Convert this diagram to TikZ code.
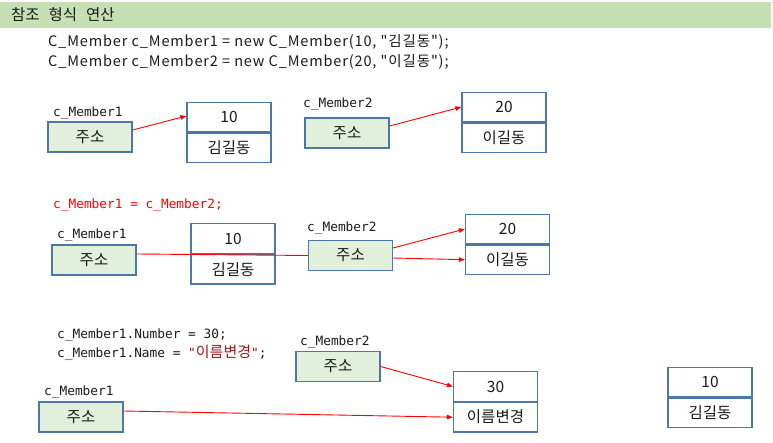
\documentclass[tikz,border=0pt]{standalone}
\usepackage{fontspec}
\setmainfont{Noto Sans CJK KR}
\newfontfamily\monofont{DejaVu Sans Mono}
\newfontfamily\krfont{Noto Sans CJK KR}
\newfontfamily\codefont[LetterSpace=6]{Noto Sans CJK KR}
\usetikzlibrary{arrows.meta}
\definecolor{band}{HTML}{C5E0B4}
\definecolor{addrfill}{HTML}{E2EFDA}
\definecolor{edge}{HTML}{4A78AA}
\definecolor{strred}{HTML}{A31515}
\definecolor{txt}{HTML}{1A1A1A}
\tikzset{
  txtnode/.style={inner sep=0pt, anchor=west, text=txt},
  codetext/.style={txtnode, font=\codefont\fontsize{14.5}{16}\selectfont},
  labeltext/.style={txtnode, font=\monofont\fontsize{12.8}{15}\selectfont},
  addrbox/.style={draw=edge, line width=1.2pt, fill=addrfill, minimum width=84pt, minimum height=30pt, inner sep=0pt, text=txt, font=\fontsize{15.5}{18}\selectfont},
  objpart/.style={draw=edge, line width=1.2pt, fill=white, minimum width=84pt, minimum height=29.5pt, inner sep=0pt, text=txt, font=\fontsize{15.5}{18}\selectfont},
  ref/.style={draw=red, line width=0.9pt},
  refarrow/.style={ref, -{Triangle[length=6pt,width=4.5pt]}}
}
\begin{document}
\begin{tikzpicture}[x=1pt,y=-1pt]
\useasboundingbox (0,0) rectangle (773,443);
% header band
\fill[band] (0,2) rectangle (771,28);
\node[txtnode, font=\fontsize{15.5}{17}\selectfont] (title) at (11,15) {참조\hspace{5.5pt} 형식\hspace{5.5pt} 연산};
\node[codetext] (code1) at (48,42) {C\_Member c\_Member1 = new C\_Member(10, \symbol{34}김길동\symbol{34});};
\node[codetext] (code2) at (48,62) {C\_Member c\_Member2 = new C\_Member(20, \symbol{34}이길동\symbol{34});};

% ---------- row 1 ----------
\node[labeltext] (l11) at (53,113) {c\_Member1};
\node[addrbox] (a11) at (90,137) {주소};
\node[objpart] (o11t) at (229,117) {10};
\node[objpart, anchor=north] (o11b) at (o11t.south) {김길동};
\node[labeltext] (l12) at (303,104) {c\_Member2};
\node[addrbox] (a12) at (347,133) {주소};
\node[objpart] (o12t) at (504,107) {20};
\node[objpart, anchor=north] (o12b) at (o12t.south) {이길동};
\draw[refarrow] ([yshift=7pt]a11.east) -- ([yshift=1pt]o11t.west);
\draw[refarrow] ([yshift=7pt]a12.east) -- (o12t.west);

% ---------- row 2 ----------
\node[txtnode, text=red, font=\monofont\fontsize{12.8}{15}\selectfont] (assign) at (53,205) {c\_Member1 = c\_Member2;};
\node[labeltext] (l21) at (57,235) {c\_Member1};
\node[addrbox] (a21) at (94,260) {주소};
\node[objpart] (o21t) at (233,238.5) {10};
\node[objpart, anchor=north] (o21b) at (o21t.south) {김길동};
\node[labeltext] (l22) at (307,228) {c\_Member2};
\node[addrbox] (a22) at (350.5,255.5) {주소};
\node[objpart] (o22t) at (507.5,229) {20};
\node[objpart, anchor=north] (o22b) at (o22t.south) {이길동};
\draw[ref] ([yshift=6pt]a21.east) -- (a22.west);
\draw[refarrow] ([yshift=7.5pt]a22.east) -- (o22t.west);
\draw[refarrow] ([yshift=-2.5pt]a22.east) -- (o22b.west);

% ---------- row 3 ----------
\node[labeltext] (code3) at (57,335) {c\_Member1.Number = 30;};
\node[labeltext] (code4) at (57,353) {c\_Member1.Name = {\color{strred}"{\krfont\fontsize{15}{15}\selectfont 이름변경}"};};
\node[labeltext] (l32) at (300,342) {c\_Member2};
\node[addrbox] (a32) at (338,366.5) {주소};
\node[labeltext] (l31) at (44,392) {c\_Member1};
\node[addrbox] (a31) at (81,417) {주소};
\node[objpart] (o31t) at (495.5,386.5) {30};
\node[objpart, anchor=north] (o31b) at (o31t.south) {이름변경};
\draw[refarrow] (a32.east) -- (o31t.west);
\draw[refarrow] ([yshift=6pt]a31.east) -- (o31b.west);

% orphan object
\node[objpart] (o4t) at (710,382) {10};
\node[objpart, anchor=north] (o4b) at (o4t.south) {김길동};
\end{tikzpicture}
\end{document}
